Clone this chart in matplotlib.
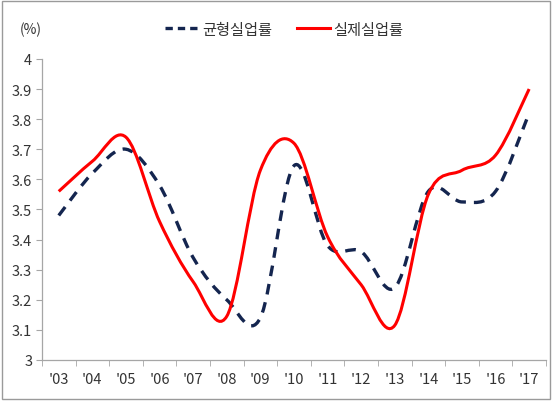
import matplotlib
matplotlib.use("Agg")
from matplotlib import pyplot as plt
from matplotlib.path import Path
from matplotlib.patches import PathPatch, Rectangle
from matplotlib.lines import Line2D
import numpy as np

plt.rcParams['font.family'] = ['Noto Sans CJK KR', 'DejaVu Sans']

years = ["'03", "'04", "'05", "'06", "'07", "'08", "'09", "'10",
         "'11", "'12", "'13", "'14", "'15", "'16", "'17"]
natural_rate = [3.48, 3.62, 3.70, 3.58, 3.34, 3.20, 3.14, 3.645,
                3.38, 3.36, 3.24, 3.56, 3.525, 3.56, 3.82]
actual_rate = [3.56, 3.66, 3.74, 3.46, 3.26, 3.145, 3.63, 3.72,
               3.41, 3.25, 3.115, 3.55, 3.63, 3.68, 3.90]
y_ticks = [3, 3.1, 3.2, 3.3, 3.4, 3.5, 3.6, 3.7, 3.8, 3.9, 4]
y_labels = ["3", "3.1", "3.2", "3.3", "3.4", "3.5", "3.6", "3.7", "3.8", "3.9", "4"]


# smoothed line like excel's "smoothed line" option (bezier through the points)
def smooth_path(xs, ys):
    pts = np.column_stack([xs, ys]).astype(float)
    n = len(pts)
    verts = [pts[0]]
    codes = [Path.MOVETO]
    for i in range(n - 1):
        p0 = pts[i - 1] if i > 0 else pts[i]
        p1 = pts[i]
        p2 = pts[i + 1]
        p3 = pts[i + 2] if i + 2 < n else pts[i + 1]
        c1 = p1 + (p2 - p0) / 6.0
        c2 = p2 - (p3 - p1) / 6.0
        verts += [c1, c2, p2]
        codes += [Path.CURVE4] * 3
    return Path(verts, codes)


fig = plt.figure(figsize=(5.52, 4.02), dpi=100)
ax = fig.add_axes([0.076, 0.102, 0.913, 0.749])

xs = np.arange(len(years))
navy = "#14254F"
red = "#FF0000"

ax.add_patch(PathPatch(smooth_path(xs, natural_rate), fill=False, edgecolor=navy,
                       lw=2.4, linestyle=(0, (3.2, 2.4)), capstyle='butt'))
ax.add_patch(PathPatch(smooth_path(xs, actual_rate), fill=False, edgecolor=red, lw=2.2))

ax.set_xlim(-0.5, len(years) - 0.5)
ax.set_ylim(3, 4)
ax.set_yticks(y_ticks)
ax.set_yticklabels(y_labels)
ax.set_xticks(xs)
ax.set_xticklabels(years)
ax.set_xticks(np.arange(len(years) + 1) - 0.5, minor=True)

for s in ['top', 'right']:
    ax.spines[s].set_visible(False)
for s in ['left', 'bottom']:
    ax.spines[s].set_color("#A6A6A6")
    ax.spines[s].set_linewidth(0.9)

ax.tick_params(axis='y', length=4, color="#A6A6A6", labelsize=10.5, labelcolor="#333333", pad=3)
ax.tick_params(axis='x', which='major', length=0, labelsize=10.5, labelcolor="#333333", pad=9)
ax.tick_params(axis='x', which='minor', length=4, color="#A6A6A6")

handles = [Line2D([], [], color=navy, lw=2.4, linestyle=(0, (2.2, 1.5))),
           Line2D([], [], color=red, lw=2.2)]
fig.legend(handles, ["균형실업률", "실제실업률"], loc='center', bbox_to_anchor=(0.515, 0.925),
           ncol=2, frameon=False, fontsize=11, handlelength=2.2, handletextpad=0.2,
           columnspacing=1.6, labelcolor="#333333")

fig.text(0.035, 0.925, "(%)", fontsize=10, color="#333333", va='center')

fig.add_artist(Rectangle((0.004, 0.004), 0.992, 0.99, transform=fig.transFigure,
                         fill=False, edgecolor="#9A9A9A", lw=1.0))

fig.savefig("out.png", dpi=100)
